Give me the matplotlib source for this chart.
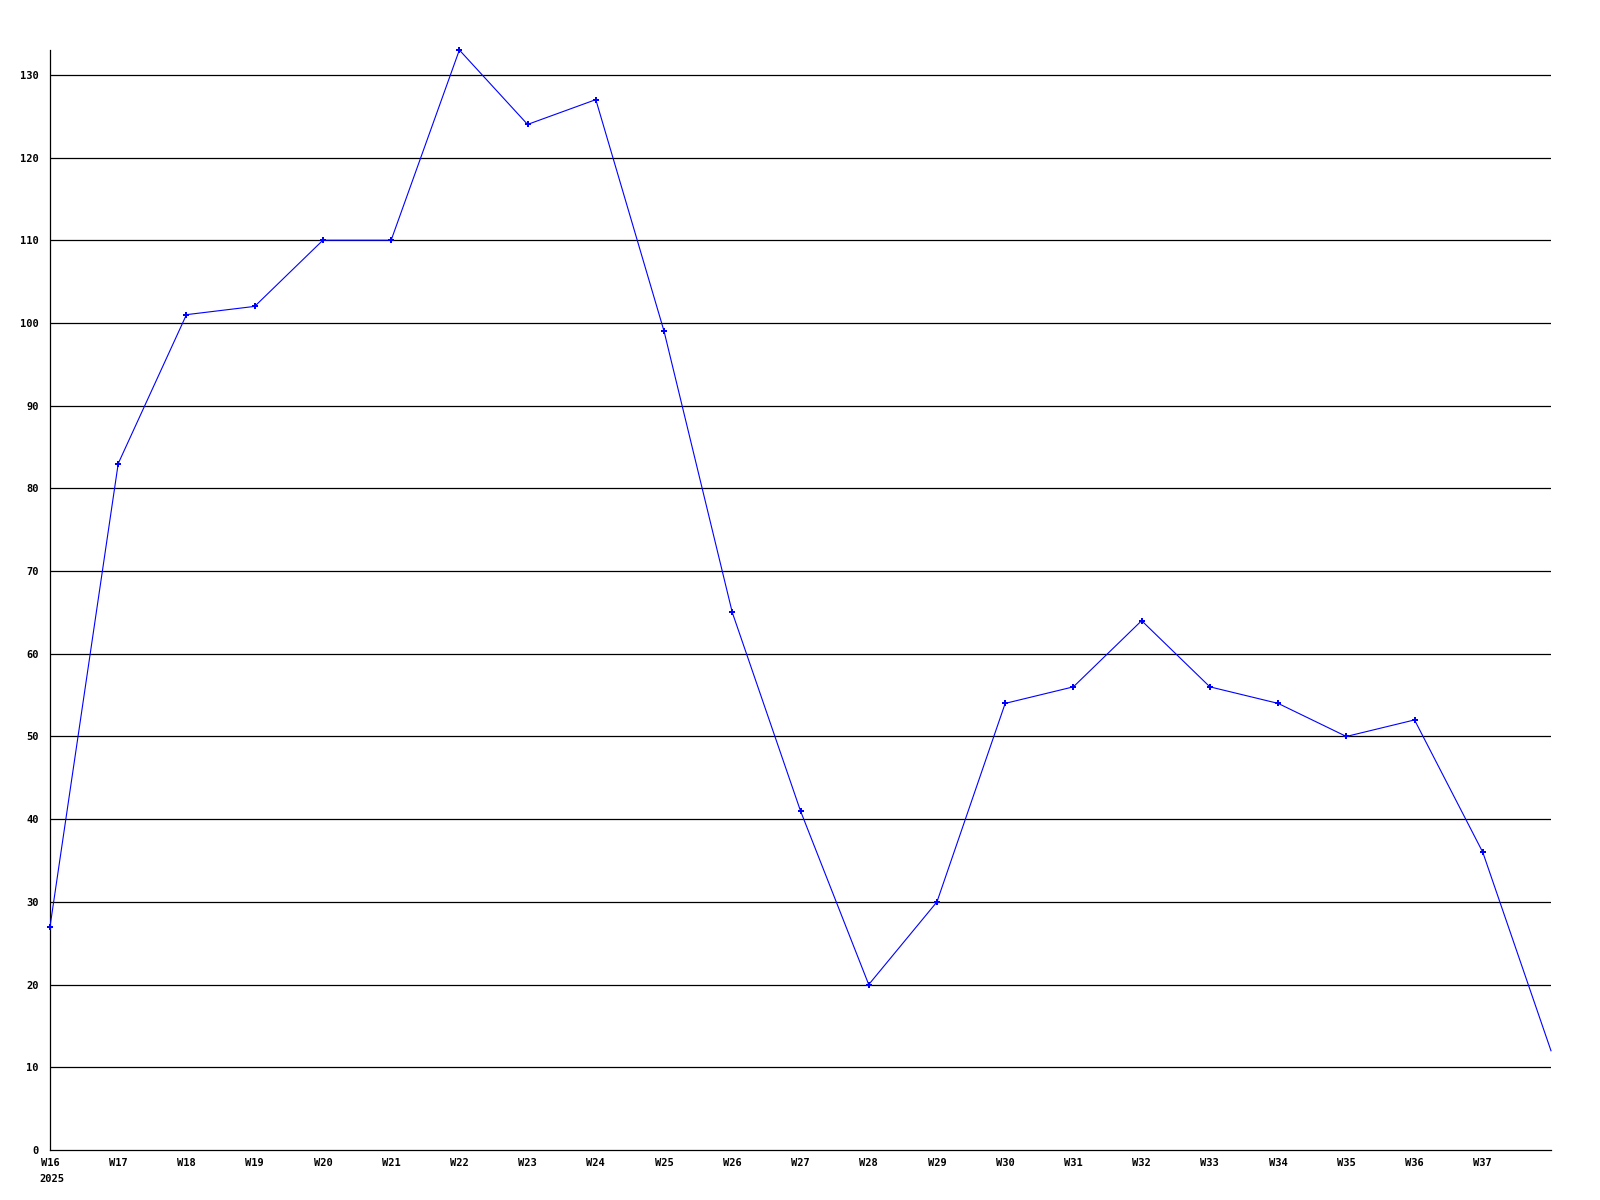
import matplotlib
matplotlib.use("Agg")
import matplotlib.pyplot as plt

weeks = ["W16", "W17", "W18", "W19", "W20", "W21", "W22", "W23", "W24", "W25", "W26",
         "W27", "W28", "W29", "W30", "W31", "W32", "W33", "W34", "W35", "W36", "W37", "W38"]
values = [27, 83, 101, 102, 110, 110, 133, 124, 127, 99, 65,
          41, 20, 30, 54, 56, 64, 56, 54, 50, 52, 36, 12]
tick_labels = weeks[:22]
year_label = "2025"
y_ticks = [0, 10, 20, 30, 40, 50, 60, 70, 80, 90, 100, 110, 120, 130]

fig = plt.figure(figsize=(16, 12), dpi=100)
ax = fig.add_axes([50/1600, 50/1200, (1551-50)/1600, 1100/1200])
x = list(range(len(values)))

for yv in y_ticks[1:]:
    ax.axhline(yv, color="black", linewidth=0.9, zorder=1)

ax.plot(x, values, color="#0000ff", linewidth=0.8, marker="P", markersize=4,
        markeredgewidth=0, zorder=3, clip_on=False,
        markevery=list(range(len(values) - 1)))

ax.set_xlim(0, 22)
ax.set_ylim(0, 133)
ax.set_xticks(list(range(22)))
ax.set_xticklabels(tick_labels, fontfamily="DejaVu Sans Mono", fontweight="bold",
                   fontsize=7.5, ha="center", va="top")
ax.set_yticks(y_ticks)
ax.set_yticklabels([str(v) for v in y_ticks], fontfamily="DejaVu Sans Mono",
                   fontweight="bold", fontsize=7.5)
ax.tick_params(axis="both", length=0)
ax.tick_params(axis="x", pad=6)
ax.tick_params(axis="y", pad=8)

ax.annotate(year_label, xy=(0, 0), xycoords=("data", "axes fraction"),
            xytext=(-7.5, -17), textcoords="offset points", ha="left", va="top",
            fontfamily="DejaVu Sans Mono", fontweight="bold", fontsize=7.5,
            annotation_clip=False)

for s in ["top", "right"]:
    ax.spines[s].set_visible(False)
for s in ["left", "bottom"]:
    ax.spines[s].set_color("black")
    ax.spines[s].set_linewidth(0.9)

fig.savefig("out.png", dpi=100, facecolor="white")
